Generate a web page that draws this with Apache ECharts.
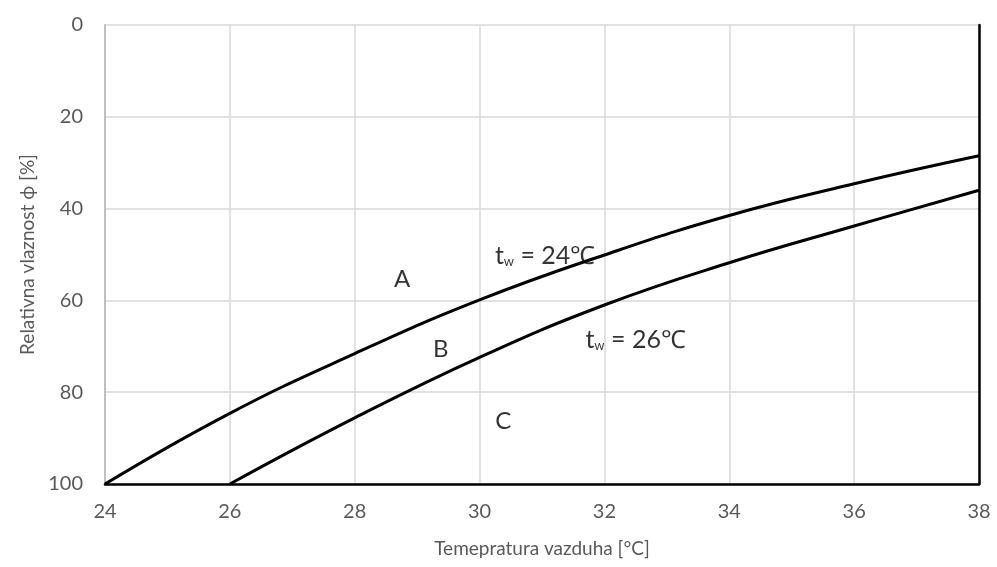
<!DOCTYPE html>
<html>
<head>
<meta charset="utf-8">
<script src="https://cdn.jsdelivr.net/npm/echarts@6/dist/echarts.min.js"></script>
<style>html,body{margin:0;padding:0;background:#fff}#c{width:997px;height:567px}</style>
</head>
<body>
<div id="c"></div>
<script>
// Data
const temps = [24, 26, 28, 30, 32, 34, 36, 38];
const curveTw24 = [100, 84.6, 71.6, 59.9, 50.1, 41.5, 34.6, 28.5];
const temps26 = [26, 28, 30, 32, 34, 36, 38];
const curveTw26 = [100, 85.6, 72.4, 61.0, 51.8, 43.8, 36.0];
const regionLabels = ['A', 'B', 'C'];
const regionX = [28.76, 29.38, 30.38];
const regionY = [55.3, 70.6, 86.3];
const curveLabelTexts = ['24℃', '26℃'];
const curveLabelX = [31.05, 32.5];
const curveLabelY = [49.8, 68.0];

const font = "Lato, 'Open Sans', sans-serif";
const chart = echarts.init(document.getElementById('c'), null, {renderer: 'canvas'});

const lineStyle = {color: '#000', width: 3};
const option = {
  animation: false,
  backgroundColor: '#fff',
  grid: {left: 105, right: 18, top: 25, bottom: 83, containLabel: false},
  xAxis: {
    type: 'value', min: 24, max: 38, interval: 2,
    name: 'Temepratura vazduha [°C]', nameLocation: 'middle', nameGap: 55,
    nameTextStyle: {color: '#595959', fontSize: 19, fontFamily: font},
    axisLine: {show: true, onZero: false, lineStyle: {color: '#000', width: 2.5}},
    axisTick: {show: false},
    axisLabel: {color: '#595959', fontSize: 20, fontFamily: font, margin: 18},
    splitLine: {show: true, lineStyle: {color: '#d9d9d9', width: 1.5}}
  },
  yAxis: [{
    type: 'value', min: 0, max: 100, interval: 20, inverse: true,
    name: 'Relativna vlaznost ϕ [%]', nameLocation: 'middle', nameGap: 66,
    nameTextStyle: {color: '#595959', fontSize: 19, fontFamily: font},
    axisLine: {show: true, lineStyle: {color: '#bfbfbf', width: 2}},
    axisTick: {show: false},
    axisLabel: {color: '#595959', fontSize: 20, fontFamily: font, margin: 22},
    splitLine: {show: true, lineStyle: {color: '#d9d9d9', width: 1.5}}
  }, {
    type: 'value', min: 0, max: 100, inverse: true, position: 'right',
    axisLine: {show: true, lineStyle: {color: '#000', width: 2.5}},
    axisTick: {show: false}, axisLabel: {show: false}, splitLine: {show: false}
  }],
  series: [
    {
      type: 'line', smooth: 0.45, symbol: 'none', lineStyle: lineStyle,
      data: temps.map((t, i) => [t, curveTw24[i]])
    },
    {
      type: 'line', smooth: 0.45, symbol: 'none', lineStyle: lineStyle,
      data: temps26.map((t, i) => [t, curveTw26[i]])
    },
    {
      type: 'scatter', symbolSize: 0, silent: true,
      data: regionLabels.map((l, i) => ({value: [regionX[i], regionY[i]], name: l})),
      label: {show: true, position: 'inside', formatter: p => p.name,
        color: '#000', fontSize: 24, fontFamily: font}
    },
    {
      type: 'scatter', symbolSize: 0, silent: true, z: 5,
      data: curveLabelTexts.map((l, i) => ({value: [curveLabelX[i], curveLabelY[i]], name: l})),
      label: {show: true, position: 'inside',
        formatter: p => '{t|t}{s|w}{t| = ' + p.name + '}',
        rich: {
          t: {color: '#000', fontSize: 25, fontFamily: font, verticalAlign: 'bottom', lineHeight: 30},
          s: {color: '#000', fontSize: 13, fontFamily: font, verticalAlign: 'bottom', lineHeight: 22}
        }
      }
    }
  ]
};
chart.setOption(option);
</script>
</body>
</html>
